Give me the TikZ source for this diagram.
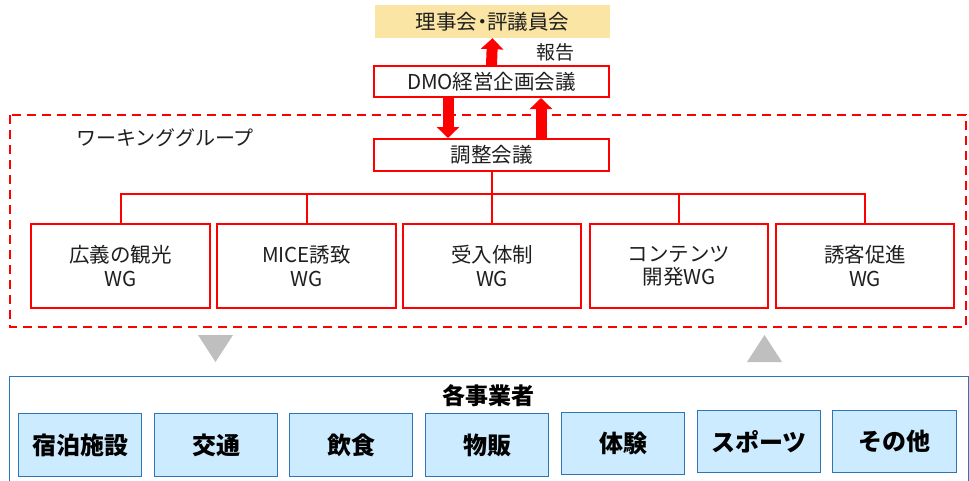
\documentclass[tikz,border=0pt]{standalone}
\usepackage{fontspec}
\setmainfont{Noto Sans CJK JP}
\usetikzlibrary{arrows.meta,calc}
\definecolor{redc}{HTML}{FF0000}
\definecolor{boardc}{HTML}{FBE5A5}
\definecolor{bluec}{HTML}{2E75B6}
\definecolor{lightb}{HTML}{CCEBFE}
\definecolor{grayc}{HTML}{BFBFBF}
\definecolor{txt}{HTML}{1F1F1F}
\begin{document}
\begin{tikzpicture}[x=1pt,y=-1pt,
  redbox/.style={draw=redc, line width=2pt, fill=white, inner sep=0pt, text=txt, align=center, font=\fontsize{20.5}{23.5}\selectfont},
  bluebox/.style={draw=bluec, line width=1.5pt, fill=lightb, inner sep=0pt, text=black, font=\fontsize{24}{28}\selectfont\bfseries, minimum width=123pt},
  redarrow/.style={draw=redc, line width=11pt, -{Triangle[length=11pt,width=22pt]}},
  redline/.style={draw=redc, line width=2pt},
  lbl/.style={inner sep=0pt, text=txt, font=\fontsize{19}{23}\selectfont}]
\useasboundingbox (0,0) rectangle (969,480);
\fill[white] (0,0) rectangle (969,480);
% dashed working group frame
\draw[draw=redc, line width=2pt, dash pattern=on 9pt off 6pt] (10,115) rectangle (966,327);
% top boxes
\node[inner sep=0pt, fill=boardc, minimum width=235pt, minimum height=33pt, text=txt, font=\fontsize{20.5}{23}\selectfont] (board) at (492.5,21.5) {理事会\kern-0.25em・\kern-0.25em評議員会};
\node[redbox, minimum width=235pt, minimum height=31pt] (dmo) at (491.5,81.5) {DMO経営企画会議};
\node[redbox, minimum width=235pt, minimum height=32pt] (adj) at (491.5,155) {調整会議};
\node[lbl] (rep) at (555,52) {報告};
\node[lbl, font=\fontsize{20}{23}\selectfont] (wgt) at (165,138) {ワーキンググループ};
% arrows
\draw[redarrow] (dmo.north) -- (board.south);
\draw[redarrow] ([xshift=-43.5pt]dmo.south) -- ([xshift=-43.5pt]adj.north);
\draw[redarrow] ([xshift=49.5pt]adj.north) -- ([xshift=49.5pt]dmo.south);
% WG boxes
\node[redbox, minimum width=179pt, minimum height=84pt] (w1) at (120.5,266) {広義の観光\\WG};
\node[redbox, minimum width=179pt, minimum height=84pt] (w2) at (306.5,266) {MICE誘致\\WG};
\node[redbox, minimum width=178pt, minimum height=84pt] (w3) at (492,266) {受入体制\\WG};
\node[redbox, minimum width=178pt, minimum height=84pt] (w4) at (679,266) {コンテンツ\\開発WG};
\node[redbox, minimum width=178pt, minimum height=84pt] (w5) at (865,266) {誘客促進\\WG};
% tree
\coordinate (bus) at (491.5,194);
\draw[redline] (adj.south) -- (adj.south |- bus);
\draw[redline] (w1.north) |- (w5.north |- bus) -- (w5.north);
\foreach \w in {w2,w3,w4} \draw[redline] (\w.north) -- (\w.north |- bus);
% gray triangles
\fill[grayc] (198,335) -- (233,335) -- (215.5,362) -- cycle;
\fill[grayc] (747,362) -- (782,362) -- (764.5,335) -- cycle;
% bottom frame
\draw[draw=bluec, line width=1pt] (9.5,484) -- (9.5,376) -- (968,376) -- (968,484);
\node[inner sep=0pt, font=\fontsize{23}{26}\selectfont\bfseries] (biz) at (488,396) {各事業者};
\node[bluebox, minimum height=63pt] (b1) at (80,445) {宿泊施設};
\node[bluebox, minimum height=63pt] (b2) at (216,445) {交通};
\node[bluebox, minimum height=63pt] (b3) at (351,445) {飲食};
\node[bluebox, minimum height=63pt] (b4) at (487,445) {物販};
\node[bluebox, minimum height=62pt] (b5) at (623,443.5) {体験};
\node[bluebox, minimum height=62pt] (b6) at (759,441.5) {スポーツ};
\node[bluebox, minimum height=62pt, minimum width=124pt] (b7) at (894.5,441.5) {その他};
\end{tikzpicture}
\end{document}
